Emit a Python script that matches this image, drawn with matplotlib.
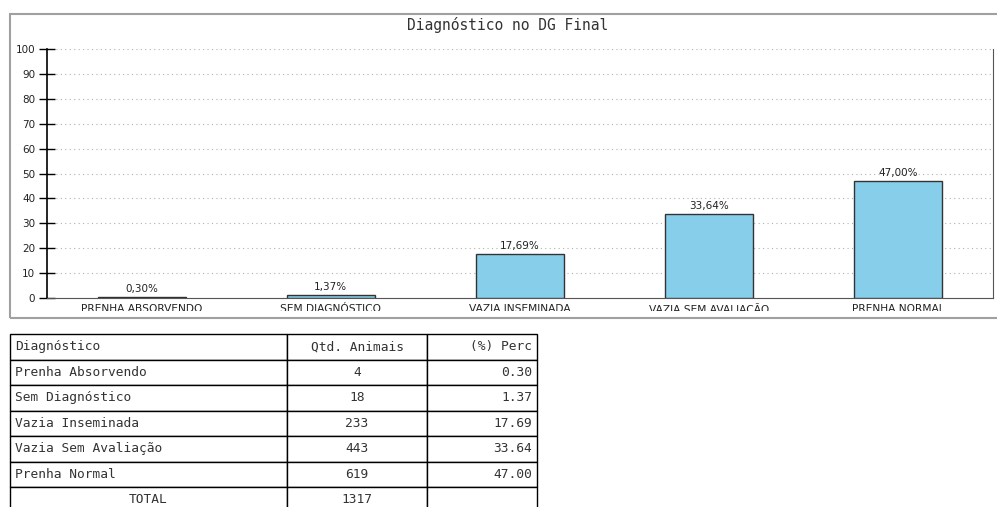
import matplotlib.pyplot as plt
from matplotlib.patches import Rectangle
from matplotlib.transforms import Bbox

# dados do DG final
categorias = ['Prenha Absorvendo', 'Sem Diagnóstico', 'Vazia Inseminada',
              'Vazia Sem Avaliação', 'Prenha Normal']
qtd_animais = [4, 18, 233, 443, 619]
perc = [0.30, 1.37, 17.69, 33.64, 47.00]
total = 1317

W, H = 997, 507
fig = plt.figure(figsize=(W / 100, H / 100), dpi=100)

# moldura cinza do painel do grafico
fig.patches.append(Rectangle((10 / W, (H - 318) / H), 1.0, (318 - 14) / H,
                             transform=fig.transFigure, fill=False,
                             edgecolor='#a0a0a0', linewidth=1.5))
fig.text(508 / W, (H - 25) / H, 'Diagnóstico no DG Final', family='DejaVu Sans Mono',
         fontsize=10.5, color='#333333', ha='center', va='center')

ax = fig.add_axes([47 / W, (H - 298) / H, 946 / W, 249 / H])
x = range(len(categorias))
ax.bar(x, perc, width=0.465, color='#87ceeb', edgecolor='#333333', linewidth=1, zorder=3)
for i, p in enumerate(perc):
    ax.text(i, p + 1.2, f'{p:.2f}%'.replace('.', ','), ha='center', va='bottom',
            fontsize=7.5, color='#222222')

ax.set_xlim(-0.5, 4.5)
ax.set_ylim(0, 100)
ax.set_yticks(range(0, 101, 10))
ax.grid(axis='y', linestyle=(0, (1, 3)), color='#b0b0b0', linewidth=0.8, zorder=0)
ax.spines['top'].set_visible(False)
ax.spines['left'].set_color('black')
ax.spines['left'].set_linewidth(1.2)
ax.spines['bottom'].set_color('#555555')
ax.spines['right'].set_color('#555555')
ax.tick_params(axis='y', direction='inout', length=11, width=1, labelsize=7.5,
               labelcolor='#222222', pad=3)
ax.set_xticks(list(x))
ax.set_xticklabels([c.upper() for c in categorias], fontsize=7.7, color='#222222')
ax.tick_params(axis='x', length=0, pad=4)

# rotulos do eixo x cortados pela moldura
corte = Bbox.from_extents(0, H - 311, W, H)
for lbl in ax.get_xticklabels():
    lbl.set_clip_on(True)
    lbl.set_clip_box(corte)

# tabela resumo
linhas = [['Diagnóstico', 'Qtd. Animais', '(%) Perc']]
for c, q, p in zip(categorias, qtd_animais, perc):
    linhas.append([c, str(q), f'{p:.2f}'])
linhas.append(['TOTAL', str(total), ''])

larguras = [277, 140, 110]
row_h = 25.5
tab_top = 334
tab_h = row_h * len(linhas)
tax = fig.add_axes([10 / W, (H - tab_top - tab_h) / H, sum(larguras) / W, tab_h / H])
tax.axis('off')
tab = tax.table(cellText=linhas, colWidths=larguras, bbox=[0, 0, 1, 1])
tab.auto_set_font_size(False)
for (r, c), cell in tab.get_celld().items():
    cell.set_edgecolor('black')
    cell.set_linewidth(1)
    txt = cell.get_text()
    txt.set_fontfamily('DejaVu Sans Mono')
    txt.set_fontsize(9.3)
    txt.set_color('#333333')
    if r == 0:
        ha = ['left', 'center', 'right'][c]
    elif r == len(linhas) - 1:
        ha = 'center'
    else:
        ha = ['left', 'center', 'right'][c]
    txt.set_horizontalalignment(ha)
    cell.PAD = 5 / larguras[c]

fig.savefig('out.png', dpi=100)
